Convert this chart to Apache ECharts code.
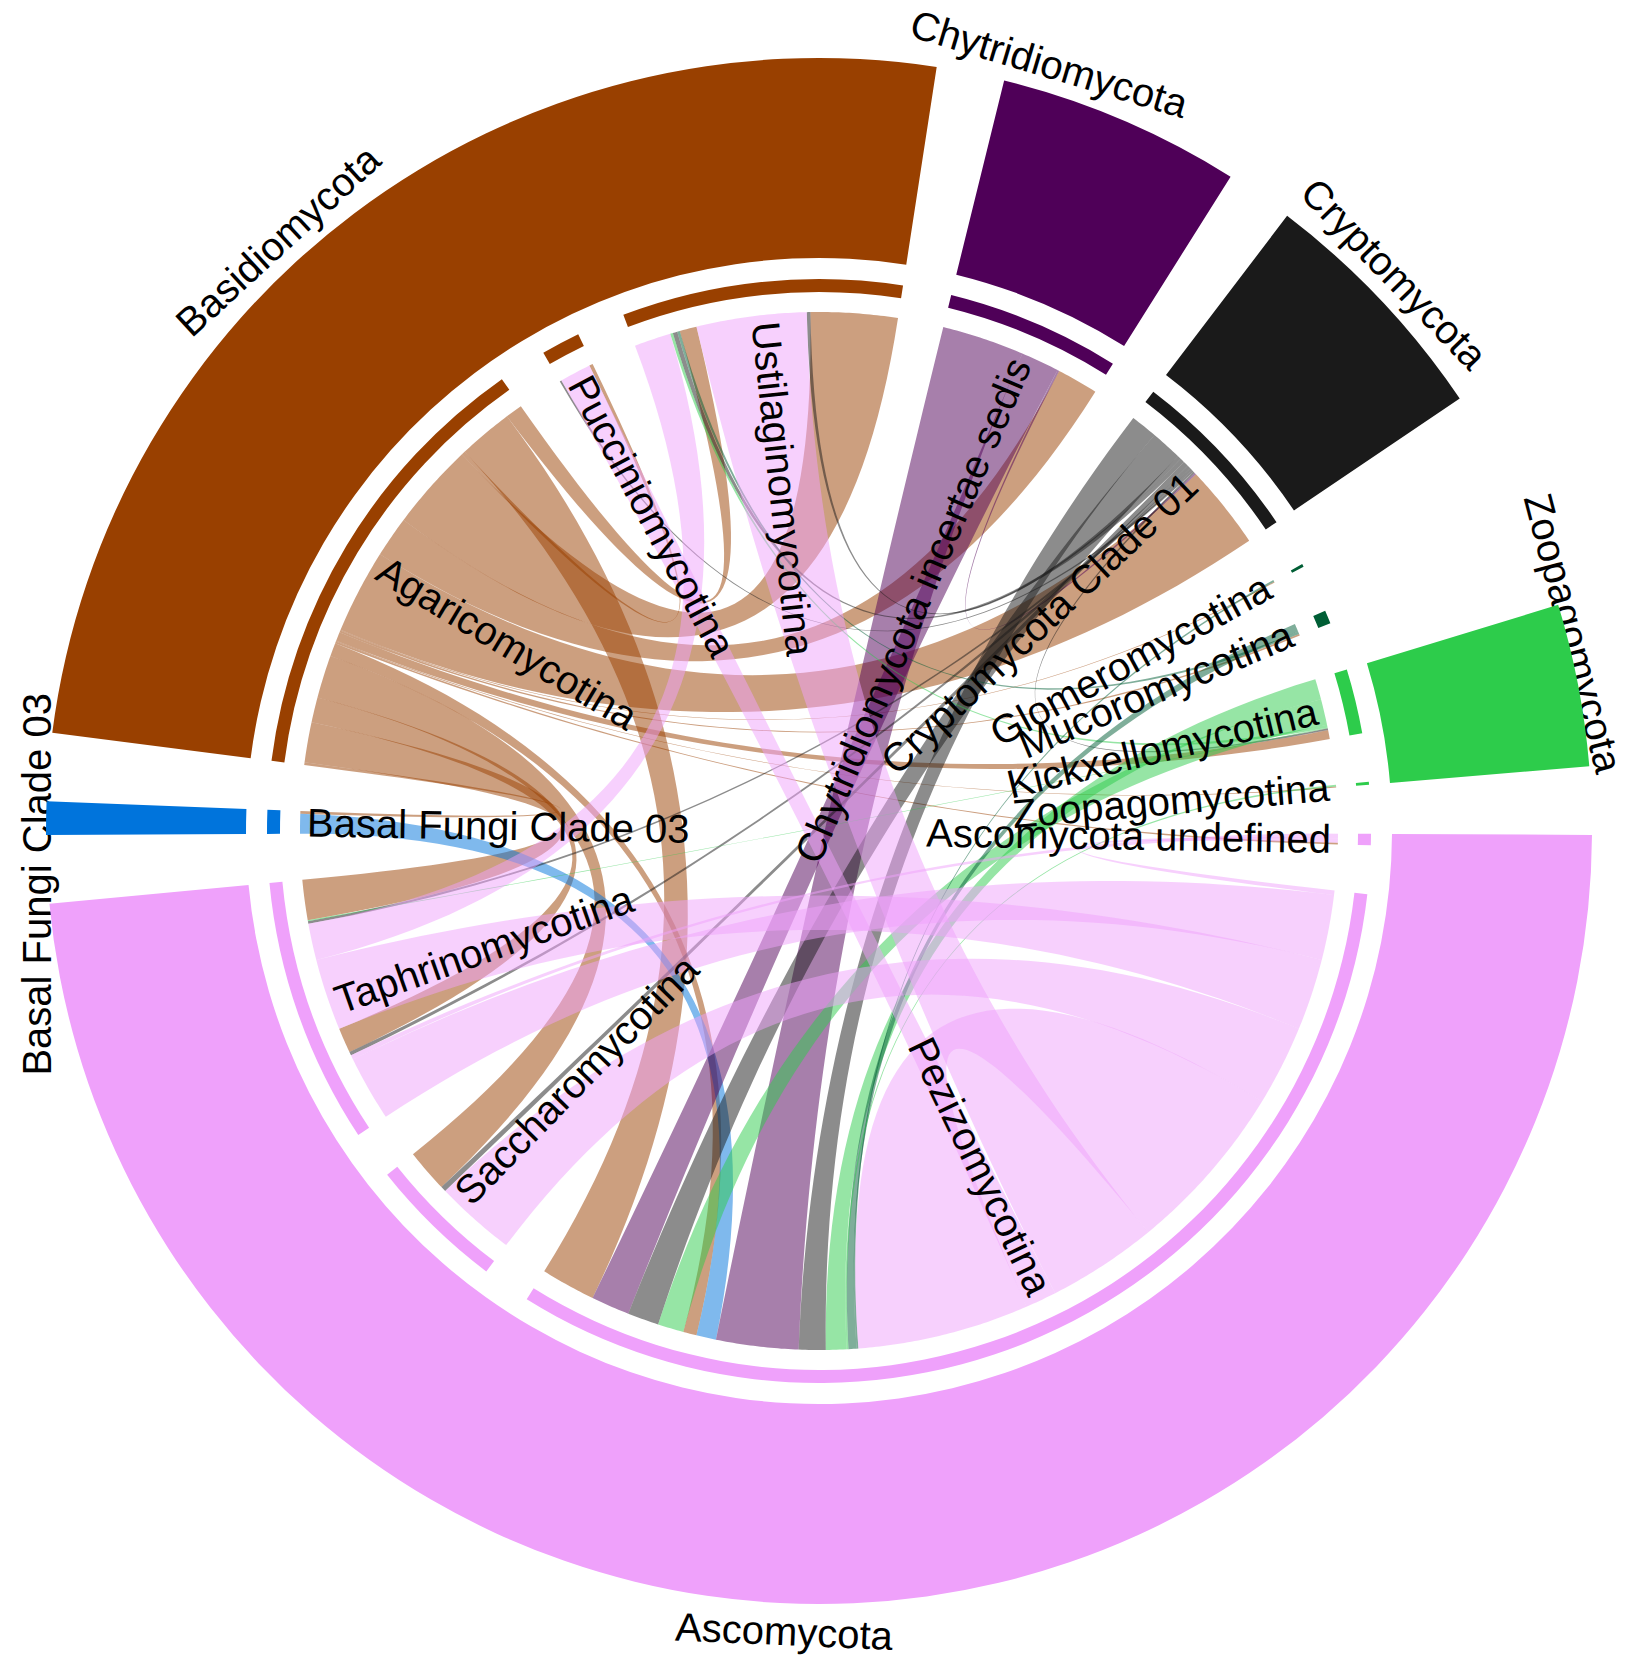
<!DOCTYPE html>
<html>
<head>
<meta charset="utf-8">
<script src="https://cdn.jsdelivr.net/npm/echarts@6/dist/echarts.min.js"></script>
<style>
html,body{margin:0;padding:0;background:#fff;}
#chart{width:1638px;height:1662px;}
</style>
</head>
<body>
<div id="chart"></div>
<script>
// ---------------- data ----------------
const sectorNames = ['Basal Fungi Clade 03','Agaricomycotina','Pucciniomycotina','Ustilaginomycotina',
  'Chytridiomycota incertae sedis','Cryptomycota Clade 01','Glomeromycotina','Mucoromycotina',
  'Kickxellomycotina','Zoopagomycotina','Ascomycota undefined','Pezizomycotina','Saccharomycotina','Taphrinomycotina'];
const sectorPhylum = ['Basal Fungi Clade 03','Basidiomycota','Basidiomycota','Basidiomycota',
  'Chytridiomycota','Cryptomycota','Mucoromycota','Mucoromycota',
  'Zoopagomycota','Zoopagomycota','Ascomycota','Ascomycota','Ascomycota','Ascomycota'];
const phylumNames = ['Basal Fungi Clade 03','Basidiomycota','Chytridiomycota','Cryptomycota','Mucoromycota','Zoopagomycota','Ascomycota'];

const linkFrom = ['Agaricomycotina','Agaricomycotina','Agaricomycotina','Agaricomycotina','Agaricomycotina','Agaricomycotina',
  'Agaricomycotina','Agaricomycotina','Agaricomycotina','Agaricomycotina','Agaricomycotina','Agaricomycotina',
  'Agaricomycotina','Agaricomycotina','Agaricomycotina','Agaricomycotina',
  'Basal Fungi Clade 03',
  'Chytridiomycota incertae sedis','Chytridiomycota incertae sedis','Chytridiomycota incertae sedis',
  'Cryptomycota Clade 01','Cryptomycota Clade 01','Cryptomycota Clade 01','Cryptomycota Clade 01','Cryptomycota Clade 01',
  'Cryptomycota Clade 01','Cryptomycota Clade 01','Cryptomycota Clade 01','Cryptomycota Clade 01',
  'Kickxellomycotina','Kickxellomycotina','Kickxellomycotina','Kickxellomycotina',
  'Glomeromycotina','Mucoromycotina','Mucoromycotina','Zoopagomycotina',
  'Ascomycota undefined','Ascomycota undefined',
  'Taphrinomycotina','Pezizomycotina','Pezizomycotina','Saccharomycotina','Taphrinomycotina','Taphrinomycotina','Pezizomycotina'];
const linkTo = ['Basal Fungi Clade 03','Pucciniomycotina','Ustilaginomycotina','Ustilaginomycotina','Chytridiomycota incertae sedis','Cryptomycota Clade 01',
  'Glomeromycotina','Mucoromycotina','Kickxellomycotina','Zoopagomycotina','Ascomycota undefined','Pezizomycotina',
  'Pezizomycotina','Saccharomycotina','Taphrinomycotina','Taphrinomycotina',
  'Pezizomycotina',
  'Pezizomycotina','Pezizomycotina','Cryptomycota Clade 01',
  'Pezizomycotina','Pezizomycotina','Ustilaginomycotina','Ustilaginomycotina','Saccharomycotina',
  'Taphrinomycotina','Taphrinomycotina','Pucciniomycotina','Kickxellomycotina',
  'Pezizomycotina','Pezizomycotina','Ustilaginomycotina','Taphrinomycotina',
  'Pezizomycotina','Pezizomycotina','Ustilaginomycotina','Pezizomycotina',
  'Taphrinomycotina','Pezizomycotina',
  'Ustilaginomycotina','Ustilaginomycotina','Pucciniomycotina','Pezizomycotina','Pezizomycotina','Pezizomycotina','Pezizomycotina'];
const linkValue = [3,4,97,19,46,94,
  1,2,10,1,2,61,
  15,48,45,28,
  22,
  92,43,2,
  30,35,4,5,6,
  4,3,2,2,
  23,29,3,1,
  2,9,3,2,
  5,5,
  41,123,35,90,73,80,192];

// ---------------- layout / style (not data) ----------------
const CX = 819, CY = 831;
const R_LINK = 519, THIN = [539, 552], OUTER = [573, 773];
const GAP = 5.1, START = 180.3;
const FONT = '40px "Liberation Sans", Arial, Helvetica, sans-serif';
const phylumColors = {'Basal Fungi Clade 03':'#0074dc','Basidiomycota':'#994000','Chytridiomycota':'#4f0058',
  'Cryptomycota':'#1a1a1a','Mucoromycota':'#005e35','Zoopagomycota':'#2dcc4b','Ascomycota':'#efa1fb'};
const phylumOuterShown = {'Mucoromycota': false};
const phylumLabelAngle = {'Basal Fungi Clade 03':183.9,'Basidiomycota':132.5,'Chytridiomycota':73.3,
  'Cryptomycota':44.1,'Zoopagomycota':14.7,'Ascomycota':267.5};
const phylumLabelR = {'Basal Fungi Clade 03':784,'Zoopagomycota':780};
const phylumLabelRot = {'Basal Fungi Clade 03':90};
const PHYLUM_LABEL_R = 801, SECTOR_LABEL_R = 512;
// order of link ends inside each sector (clockwise), by link index
const sectorEndOrder = [
  [16,0],
  [0,14,15,13,12,10,9,8,7,6,5,4,2,1,11,3],
  [27,41,1],
  [39,31,23,35,3,40,22,2],
  [17,18,19,4],
  [20,21,22,23,24,25,26,27,28,19,5],
  [33,6],
  [34,35,7],
  [29,30,31,32,28,8],
  [36,9],
  [37,38,10],
  [38,43,44,42,45,40,41,45,33,34,36,29,20,17,16,12,30,21,18,11],
  [42,24,13],
  [43,37,25,15,44,39,26,32,14]
];

// ---------------- computations ----------------
const nS = sectorNames.length;
const sIdx = n => sectorNames.indexOf(n);
const sectorTotal = new Array(nS).fill(0);
linkValue.forEach((v, i) => { sectorTotal[sIdx(linkFrom[i])] += v; sectorTotal[sIdx(linkTo[i])] += v; });
const grand = sectorTotal.reduce((a, b) => a + b, 0);
const k = (360 - nS * GAP) / grand;
const sectorStart = [], sectorEnd = [];
let ang = START;
for (let i = 0; i < nS; i++) { sectorStart[i] = ang; sectorEnd[i] = ang - sectorTotal[i] * k; ang = sectorEnd[i] - GAP; }

const linkEnds = linkValue.map(() => []);
for (let s = 0; s < nS; s++) {
  let pos = sectorStart[s];
  sectorEndOrder[s].forEach(li => { const w = linkValue[li] * k; linkEnds[li].push([pos, pos - w]); pos -= w; });
}
linkValue.forEach((v, li) => {
  const need = [sIdx(linkFrom[li]), sIdx(linkTo[li])];
  while (linkEnds[li].length < 2) { const s = need[linkEnds[li].length]; linkEnds[li].push([sectorEnd[s], sectorEnd[s]]); }
});

function rgba(hex, a) {
  const h = hex.replace('#', '');
  return 'rgba(' + parseInt(h.substr(0, 2), 16) + ',' + parseInt(h.substr(2, 2), 16) + ',' + parseInt(h.substr(4, 2), 16) + ',' + a + ')';
}
function pt(r, deg) { const a = deg * Math.PI / 180; return [CX + r * Math.cos(a), CY - r * Math.sin(a)]; }
function arc(r, a0, a1) {
  const n = Math.max(2, Math.ceil(Math.abs(a0 - a1) / 0.4) + 1), out = [];
  for (let i = 0; i < n; i++) out.push(pt(r, a0 + (a1 - a0) * i / (n - 1)));
  return out;
}
function quad(p0, p2) {
  const out = [], n = 48;
  for (let i = 1; i < n; i++) {
    const t = i / n, u = 1 - t;
    out.push([u * u * p0[0] + 2 * u * t * CX + t * t * p2[0], u * u * p0[1] + 2 * u * t * CY + t * t * p2[1]]);
  }
  return out;
}
function ribbon(e1, e2) {
  let pts = arc(R_LINK, e1[0], e1[1]);
  pts = pts.concat(quad(pt(R_LINK, e1[1]), pt(R_LINK, e2[0])));
  pts = pts.concat(arc(R_LINK, e2[0], e2[1]));
  pts = pts.concat(quad(pt(R_LINK, e2[1]), pt(R_LINK, e1[0])));
  return pts;
}

// thin ring pie data
const thinData = [];
for (let i = 0; i < nS; i++) {
  thinData.push({ name: sectorNames[i], value: sectorTotal[i] * k, itemStyle: { color: phylumColors[sectorPhylum[i]] } });
  thinData.push({ name: '', value: GAP, itemStyle: { color: 'rgba(0,0,0,0)' } });
}
// outer phylum ring pie data
const outerData = [];
const blocks = [];
for (let i = 0; i < nS; i++) {
  const p = sectorPhylum[i];
  if (blocks.length && blocks[blocks.length - 1].p === p) { blocks[blocks.length - 1].end = i; }
  else blocks.push({ p: p, start: i, end: i });
}
blocks.forEach(b => {
  const deg = sectorStart[b.start] - sectorEnd[b.end];
  const shown = phylumOuterShown[b.p] !== false;
  outerData.push({ name: b.p, value: deg, itemStyle: { color: shown ? phylumColors[b.p] : 'rgba(0,0,0,0)' } });
  outerData.push({ name: '', value: GAP, itemStyle: { color: 'rgba(0,0,0,0)' } });
});

// labels
const labelItems = [];
for (let i = 0; i < nS; i++) {
  const th = (sectorStart[i] + sectorEnd[i]) / 2;
  const p = pt(SECTOR_LABEL_R, th);
  const right = Math.cos(th * Math.PI / 180) >= 0;
  labelItems.push({ text: sectorNames[i], x: p[0], y: p[1], rot: right ? th : th - 180, align: right ? 'right' : 'left' });
}
phylumNames.forEach(pn => {
  if (phylumLabelAngle[pn] == null) return;
  const th = phylumLabelAngle[pn];
  const p = pt(phylumLabelR[pn] || PHYLUM_LABEL_R, th);
  let rot = th - 90;
  while (rot > 180) rot -= 360;
  while (rot <= -180) rot += 360;
  if (rot > 100 || rot < -100) rot += 180;
  if (phylumLabelRot[pn] != null) rot = phylumLabelRot[pn];
  labelItems.push({ text: pn, x: p[0], y: p[1], rot: rot, align: 'center' });
});

const chart = echarts.init(document.getElementById('chart'), null, { renderer: 'svg' });
chart.setOption({
  backgroundColor: '#ffffff',
  animation: false,
  series: [
    {
      type: 'pie', center: [CX, CY], radius: OUTER, startAngle: START, clockwise: true,
      silent: true, label: { show: false }, labelLine: { show: false },
      itemStyle: { borderWidth: 0 }, emphasis: { disabled: true }, data: outerData
    },
    {
      type: 'pie', center: [CX, CY], radius: THIN, startAngle: START, clockwise: true,
      silent: true, label: { show: false }, labelLine: { show: false },
      itemStyle: { borderWidth: 0 }, emphasis: { disabled: true }, data: thinData
    },
    {
      type: 'custom', coordinateSystem: 'none', silent: true,
      data: linkValue.map((v, i) => [i, v]),
      renderItem: function (params) {
        const li = params.dataIndex;
        const col = phylumColors[sectorPhylum[sIdx(linkFrom[li])]];
        return {
          type: 'polygon',
          shape: { points: ribbon(linkEnds[li][0], linkEnds[li][1]) },
          style: { fill: rgba(col, 0.5), stroke: null }
        };
      }
    },
    {
      type: 'custom', coordinateSystem: 'none', silent: true,
      data: labelItems.map((d, i) => [i]),
      renderItem: function (params) {
        const d = labelItems[params.dataIndex];
        return {
          type: 'text', x: d.x, y: d.y, rotation: d.rot * Math.PI / 180,
          style: { text: d.text, fill: '#000', font: FONT, align: d.align, verticalAlign: 'middle' }
        };
      }
    }
  ]
});
</script>
</body>
</html>
